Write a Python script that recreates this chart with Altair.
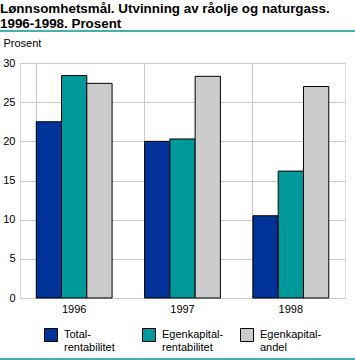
import altair as alt
import pandas as pd

years = ["1996", "1997", "1998"]
series = ["Totalrentabilitet", "Egenkapitalrentabilitet", "Egenkapitalandel"]
total = [22.5, 20.0, 10.5]
egen_rent = [28.4, 20.3, 16.2]
egen_andel = [27.4, 28.3, 27.0]
colors = ["#003399", "#009999", "#cccccc"]
y_ticks = [0, 5, 10, 15, 20, 25, 30]
title_lines = ["Lønnsomhetsmål. Utvinning av råolje og naturgass.", "1996-1998. Prosent"]

rows = []
for i, yr in enumerate(years):
    for s, vals in zip(series, [total, egen_rent, egen_andel]):
        rows.append({"year": yr, "series": s, "value": vals[i]})
df = pd.DataFrame(rows)

FONT = "Liberation Sans"

label_expr = (
    "datum.label == 'Totalrentabilitet' ? ['Total-', 'rentabilitet'] : "
    "datum.label == 'Egenkapitalrentabilitet' ? ['Egenkapital-', 'rentabilitet'] : "
    "['Egenkapital-', 'andel']"
)

bars = alt.Chart(df).mark_bar(stroke="black", strokeWidth=1).encode(
    x=alt.X("year:N", sort=years, title=None,
            scale=alt.Scale(paddingInner=0.3, paddingOuter=0.15),
            axis=alt.Axis(labelAngle=0, ticks=False, domain=False, grid=True,
                          bandPosition=0, gridColor="#c8c8c8", labelPadding=5,
                          labelFont=FONT, labelFontSize=11, labelColor="black")),
    xOffset=alt.XOffset("series:N", sort=series),
    y=alt.Y("value:Q", title="Prosent",
            scale=alt.Scale(domain=[0, 30], nice=False),
            axis=alt.Axis(values=y_ticks, ticks=False, domain=False, gridColor="#c8c8c8",
                          labelPadding=5, labelFont=FONT, labelFontSize=11, labelColor="black",
                          titleAngle=0, titleX=-17, titleY=-17, titleAlign="left",
                          titleBaseline="alphabetic", titleFont=FONT, titleFontSize=11,
                          titleFontWeight="normal", titleColor="black")),
    color=alt.Color("series:N", sort=series,
                    scale=alt.Scale(domain=series, range=colors),
                    legend=alt.Legend(title=None, orient="none", legendX=24, legendY=265,
                                      direction="horizontal", columns=3, gridAlign="all",
                                      columnPadding=14, symbolType="square", symbolSize=169,
                                      symbolStrokeColor="black", symbolStrokeWidth=1,
                                      symbolOpacity=1, labelExpr=label_expr,
                                      labelFont=FONT, labelFontSize=11, labelColor="black",
                                      labelOffset=6, labelLimit=200)),
)

one = pd.DataFrame({"a": [0]})
top_rule = alt.Chart(one).mark_rule(color="#009999", strokeWidth=1.5).encode(
    x=alt.value(-20), x2=alt.value(335), y=alt.value(-32)
)
bottom_rule = alt.Chart(one).mark_rule(color="#009999", strokeWidth=1.5).encode(
    x=alt.value(-20), x2=alt.value(335), y=alt.value(296)
)

title_layers = []
for line, ypos in zip(title_lines, [-50, -35]):
    title_layers.append(
        alt.Chart(pd.DataFrame({"t": [line]})).mark_text(
            align="left", baseline="alphabetic", font=FONT, fontSize=13.4,
            fontWeight="bold", color="black"
        ).encode(text="t:N", x=alt.value(-20), y=alt.value(ypos))
    )

chart = alt.layer(bars, top_rule, bottom_rule, *title_layers).properties(
    width=325, height=235,
    autosize=alt.AutoSizeParams(type="none"),
    padding={"left": 20, "top": 63, "right": 10, "bottom": 63},
).configure_view(stroke="#c8c8c8", strokeWidth=1).configure(background="white")

chart.save("out.html", embed_options={"renderer": "svg", "actions": False})
